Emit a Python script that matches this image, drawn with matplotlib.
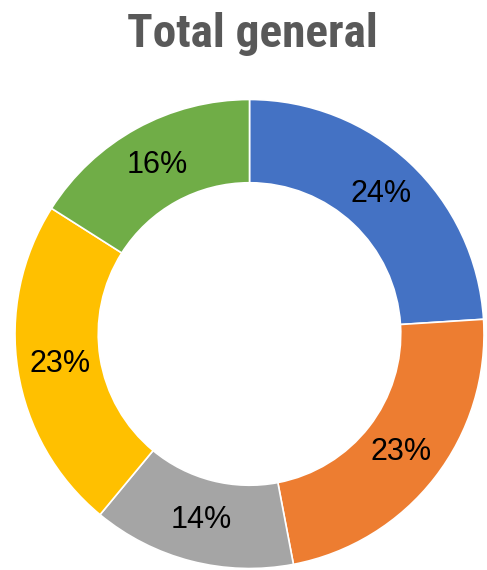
import matplotlib.pyplot as plt

# data
categories = ['A', 'B', 'C', 'D', 'E']
values = [24, 23, 14, 23, 16]
colors = ['#4472C4', '#ED7D31', '#A5A5A5', '#FFC000', '#70AD47']
title = 'Total general'

fig = plt.figure(figsize=(4.87, 5.7), dpi=100)
ax = fig.add_axes([15 / 487, 1 - 569 / 570, 469 / 487, 470 / 570])

wedges, texts, autotexts = ax.pie(
    values, colors=colors, startangle=90, counterclock=False,
    autopct='%1.0f%%', pctdistance=0.82, radius=1.0,
    wedgeprops=dict(width=0.355, edgecolor='white', linewidth=1.2),
    textprops=dict(fontsize=22, family='Liberation Sans', color='black'))
ax.set_aspect('equal')
ax.set_xlim(-1.0, 1.0)
ax.set_ylim(-1.0, 1.0)

# title in a condensed bold face
fig.text(252 / 487, 1 - 47 / 570, title, ha='center', va='baseline',
         fontsize=34, fontweight='bold', color='#595959',
         family=['Roboto Condensed', 'Liberation Sans', 'DejaVu Sans'])

fig.savefig('out.png', dpi=100)
